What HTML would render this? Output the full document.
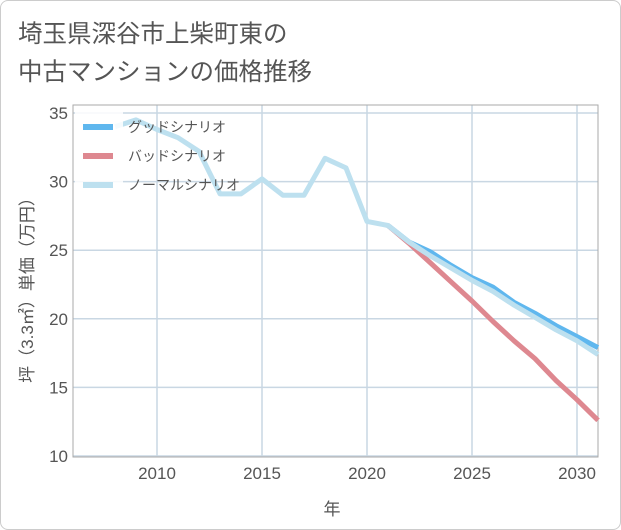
<!DOCTYPE html>
<html><head><meta charset="utf-8"><style>
body{margin:0;background:#fff;font-family:"Liberation Sans","Noto Sans CJK JP",sans-serif}
#wrap{position:relative;width:619px;height:528px;border:1px solid #ccc;border-radius:8px;overflow:hidden}
</style></head><body>
<div id="wrap">
<svg id="chart" width="621" height="530" font-family="Liberation Sans, Noto Sans CJK JP, sans-serif">
<text x="17" y="41" font-size="24.5" fill="#555">埼玉県深谷市上柴町東の</text>
<text x="17" y="79" font-size="24.5" fill="#555">中古マンションの価格推移</text>
<g id="grid"></g><g id="series"></g><g id="legend"></g>
<text x="331" y="514" font-size="17" fill="#555" text-anchor="middle">年</text>
<text transform="translate(32,285) rotate(-90)" font-size="17" fill="#555" text-anchor="middle">坪（3.3㎡）単価（万円）</text>
</svg></div>
<script>
const xTicks=[2010,2015,2020,2025,2030];
const yTicks=[10,15,20,25,30,35];
const normalYears=[2008,2009,2010,2011,2012,2013,2014,2015,2016,2017,2018,2019,2020,2021,2022,2023,2024,2025,2026,2027,2028,2029,2030,2031];
const normalVals=[34.0,34.5,33.8,33.2,32.2,29.1,29.1,30.2,29.0,29.0,31.7,31.0,27.1,26.8,25.6,24.6,23.7,22.8,22.0,21.0,20.1,19.2,18.4,17.4];
const futureYears=[2021,2022,2023,2024,2025,2026,2027,2028,2029,2030,2031];
const goodVals=[26.8,25.6,24.9,23.9,23.0,22.3,21.2,20.4,19.5,18.7,17.9];
const badVals=[26.8,25.5,24.1,22.7,21.3,19.8,18.4,17.1,15.5,14.1,12.6];
const X0=72,X1=597,Y0=104,Y1=456;
const xs=v=>X0+(v-2006)/(2031-2006)*(X1-X0);
const ys=v=>455-(v-10)/25*(455-112);
const NS='http://www.w3.org/2000/svg';
function mk(t,a,p){const e=document.createElementNS(NS,t);for(const k in a)e.setAttribute(k,a[k]);p.appendChild(e);return e;}
const g=document.getElementById('grid');
for(const t of xTicks){
 const l=mk('line',{x1:xs(t),x2:xs(t),y1:Y0,y2:Y1,stroke:'#c9d7e3','stroke-width':1.5},g);
 
 
 const tx=mk('text',{x:xs(t),y:478,'font-size':17,fill:'#555','text-anchor':'middle'},g);tx.textContent=t;
 
 
}
for(const t of yTicks){
 const l=mk('line',{x1:X0,x2:X1,y1:ys(t),y2:ys(t),stroke:'#c9d7e3','stroke-width':1.5},g);
 
 
 const tx=mk('text',{x:67,y:ys(t)+6,'font-size':17,fill:'#555','text-anchor':'end'},g);tx.textContent=t;
 
 
}
const fr=mk('rect',{x:X0,y:Y0,width:X1-X0,height:Y1-Y0,fill:'none',stroke:'#aaa','stroke-width':1},g);


const s=document.getElementById('series');
function line(years,vals,color,name){
 const d=years.map((y,i)=>(i?'L':'M')+xs(y).toFixed(1)+' '+ys(vals[i]).toFixed(1)).join(' ');
 const p=mk('path',{d:d,fill:'none',stroke:color,'stroke-width':5,'stroke-linejoin':'round'},s);
 
 
}
line(futureYears,goodVals,'#5fb7ee','good-scenario-line');
line(futureYears,badVals,'#de8890','bad-scenario-line');
line(normalYears,normalVals,'#bde0ef','normal-scenario-line');
const lg=document.getElementById('legend');
const bg=mk('rect',{x:74,y:106,width:48,height:90,fill:'#fff','fill-opacity':0.85},lg);


const items=[['グッドシナリオ','#5fb7ee','legend-good'],['バッドシナリオ','#de8890','legend-bad'],['ノーマルシナリオ','#bde0ef','legend-normal']];
items.forEach((it,i)=>{
 const y=126+i*29;
 const gg=mk('g',{},lg);
 
 
 mk('line',{x1:82,x2:112,y1:y,y2:y,stroke:it[1],'stroke-width':6},gg);
 const t=mk('text',{x:127,y:y+5,'font-size':14,fill:'#555'},gg);t.textContent=it[0];
});
</script>
</body></html>
